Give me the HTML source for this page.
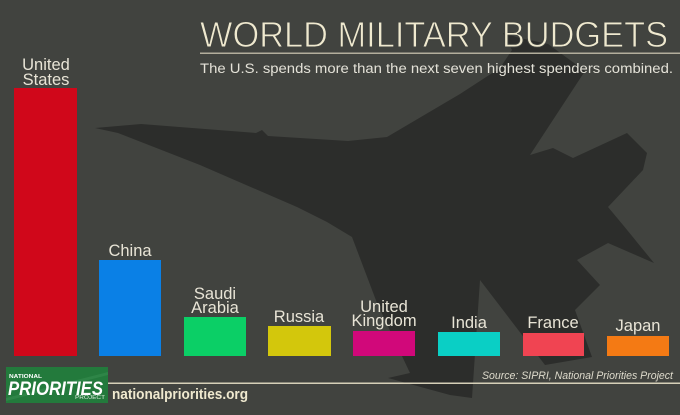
<!DOCTYPE html>
<html><head><meta charset="utf-8"><style>
html,body{margin:0;padding:0;background:#41433f;}
svg{display:block;}
text{font-family:"Liberation Sans",sans-serif;}
</style></head><body>
<svg width="680" height="415" viewBox="0 0 680 415" xmlns="http://www.w3.org/2000/svg">
<rect width="680" height="415" fill="#41433f"/>
<polygon fill="#2c2d2b" points="95,128 141,124 256,133 262,130 268,136 348,141 387,137 460,94 500,68 512,50 503,33 520,38 548,44 585,71 530,155 553,148 573,158 627,133 647,153 643,170 608,207 623,225 654,263 608,243 577,260 600,285 575,310 592,357 545,365 480,280 472,398 450,395 388,378 410,373 377,303 352,237 327,222 297,207 200,165 118,133"/>
<text x="200" y="47" font-size="36" fill="#efe9cf" stroke="#41433f" stroke-width="0.9" textLength="468" lengthAdjust="spacingAndGlyphs">WORLD MILITARY BUDGETS</text>
<rect x="200" y="52.5" width="480" height="1.5" fill="#b3ae9c"/>
<text x="200" y="73" font-size="13.5" fill="#e4e2d8" textLength="473" lengthAdjust="spacingAndGlyphs">The U.S. spends more than the next seven highest spenders combined.</text>

<rect x="14" y="88" width="63" height="268" fill="#d0071a"/>
<rect x="99" y="260" width="62" height="96" fill="#0a80e6"/>
<rect x="184" y="317" width="62" height="39" fill="#0bcf66"/>
<rect x="268" y="326" width="63" height="30" fill="#d3c70c"/>
<rect x="353" y="331" width="62" height="25" fill="#d1087a"/>
<rect x="438" y="332" width="62" height="24" fill="#0acfc5"/>
<rect x="523" y="333" width="61" height="23" fill="#f04452"/>
<rect x="607" y="336" width="62" height="20" fill="#f47a14"/>

<g font-size="16.5" fill="#e8e4d6" text-anchor="middle">
<text x="46" y="70">United</text>
<text x="46" y="85">States</text>
<text x="130" y="256">China</text>
<text x="215" y="299">Saudi</text>
<text x="215" y="313">Arabia</text>
<text x="299" y="322">Russia</text>
<text x="384" y="312">United</text>
<text x="384" y="326">Kingdom</text>
<text x="469" y="328">India</text>
<text x="553" y="328">France</text>
<text x="638" y="331">Japan</text>
</g>

<text x="482" y="379" font-size="11" font-style="italic" fill="#dedbcc" textLength="191" lengthAdjust="spacingAndGlyphs">Source: SIPRI, National Priorities Project</text>
<rect x="108" y="382.5" width="572" height="1.5" fill="#d6d0b8"/>

<rect x="6" y="367" width="102" height="36" fill="#237a3c"/>
<polygon points="6,398 108,372 108,375 6,401" fill="#3a8f52" opacity="0.5"/>
<text x="9" y="378" font-size="5.5" font-weight="bold" fill="#ffffff" textLength="33" lengthAdjust="spacingAndGlyphs">NATIONAL</text>
<text x="8" y="395" font-size="19" font-weight="bold" font-style="italic" fill="#ffffff" textLength="95" lengthAdjust="spacingAndGlyphs">PRIORITIES</text>
<text x="75" y="399" font-size="5.5" fill="#d8ead9" textLength="30" lengthAdjust="spacingAndGlyphs">PROJECT</text>
<text x="112" y="399" font-size="15" font-weight="bold" fill="#efe9cf" textLength="136" lengthAdjust="spacingAndGlyphs">nationalpriorities.org</text>
</svg>
</body></html>
